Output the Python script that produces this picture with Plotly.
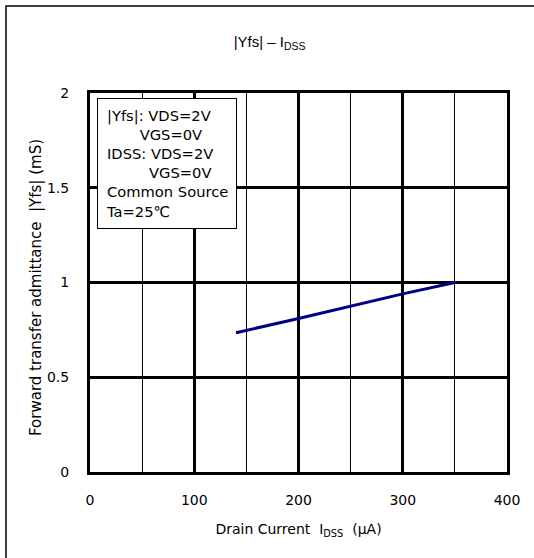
import plotly.graph_objects as go

# Data
idss_uA = [140, 200, 300, 350]
yfs_mS = [0.735, 0.81, 0.94, 1.0]

x_ticks = [0, 100, 200, 300, 400]
y_ticks = [0, 0.5, 1, 1.5, 2]
y_tick_text = ["0", "0.5", "1", "1.5", "2"]

legend_lines = [
    "|Yfs|: VDS=2V",
    "\u00a0\u00a0\u00a0\u00a0\u00a0\u00a0\u00a0VGS=0V",
    "IDSS: VDS=2V",
    "\u00a0\u00a0\u00a0\u00a0\u00a0\u00a0\u00a0\u00a0\u00a0VGS=0V",
    "Common Source",
    "Ta=25\u2103",
]

FONT = "DejaVu Sans, sans-serif"

W, H = 534, 558
ML, MR, MT, MB = 90, 27, 93, 86
PW = W - ML - MR
PH = H - MT - MB

fig = go.Figure()
fig.add_trace(go.Scatter(
    x=idss_uA, y=yfs_mS, mode="lines",
    line=dict(color="#000080", width=3),
    showlegend=False, hoverinfo="skip",
))

fig.update_layout(
    width=W, height=H,
    margin=dict(l=ML, r=MR, t=MT, b=MB),
    paper_bgcolor="white", plot_bgcolor="white",
    font=dict(family=FONT, size=14, color="black"),
    title=dict(text="|Yfs| \u2013 I<sub>DSS</sub>", x=0.505, xref="container",
               y=1 - 42 / H, yref="container", yanchor="middle", xanchor="center",
               font=dict(family="Liberation Sans, Arial, sans-serif", size=15, color="black")),
    xaxis=dict(
        range=[0, 400], tickvals=x_ticks, showgrid=True, gridcolor="black",
        gridwidth=3, zeroline=False, showline=True, linecolor="black",
        linewidth=3, mirror=True, ticks="", ticklabelstandoff=13,
        tickfont=dict(size=14),
        minor=dict(dtick=50, showgrid=True, gridcolor="black", gridwidth=1),
        title=dict(text="Drain Current  I<sub>DSS</sub>  (\u03bcA)",
                   font=dict(size=14), standoff=18),
    ),
    yaxis=dict(
        range=[0, 2], tickvals=y_ticks, ticktext=y_tick_text, showgrid=True,
        gridcolor="black", gridwidth=3, zeroline=False, showline=True,
        linecolor="black", linewidth=3, mirror=True, ticks="",
        ticklabelstandoff=15, tickfont=dict(size=14),
    ),
)

# y-axis title placed to match the reference
fig.add_annotation(
    xref="paper", yref="paper",
    x=(36 - ML) / PW, y=1 - (288 - MT) / PH,
    xanchor="center", yanchor="middle", textangle=-90,
    text="Forward transfer admittance  |Yfs| (mS)", showarrow=False,
    font=dict(family=FONT, size=15, color="black"),
)

# outer frame of the picture (only left and top visible in reference)
fig.add_shape(type="rect", xref="paper", yref="paper",
              x0=(6 - ML) / PW, x1=(W + 5 - ML) / PW,
              y0=-(H + 5 - MT - PH) / PH, y1=1 + (MT - 6) / PH,
              line=dict(color="black", width=1.5), layer="below")

fig.add_annotation(
    xref="paper", yref="paper",
    x=(97 - ML) / PW, y=1 - (98 - MT) / PH,
    xanchor="left", yanchor="top", align="left",
    text="<br>".join(legend_lines), showarrow=False,
    font=dict(family=FONT, size=14.7, color="black"),
    bgcolor="white", bordercolor="black", borderwidth=1, borderpad=8,
)

fig.write_html("out.html", config={"displayModeBar": False},
               post_script="document.body.style.margin='0';")
